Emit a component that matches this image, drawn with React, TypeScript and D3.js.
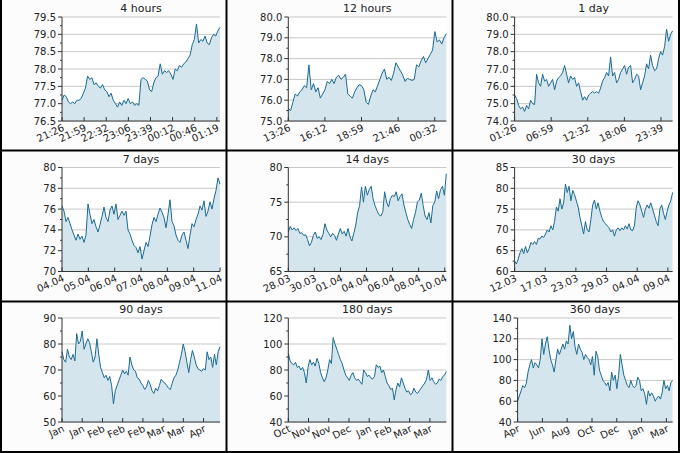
import React from 'react';
import * as d3 from 'd3';

const titles = ['4 hours', '12 hours', '1 day', '7 days', '14 days', '30 days', '90 days', '180 days', '360 days'];

const s4h = [77.1,77.25,77.2,77.05,77.0,77.05,77.0,77.1,77.1,77.15,77.3,77.45,77.8,77.7,77.75,77.55,77.6,77.5,77.45,77.55,77.4,77.35,77.2,77.3,77.1,77.0,76.9,77.05,76.95,77.1,77.0,77.15,77.0,77.05,76.95,77.0,76.95,77.7,77.75,77.7,77.65,77.4,77.35,77.6,77.75,77.8,78.15,77.85,77.95,77.9,77.95,77.85,77.7,78.0,77.95,78.1,78.05,78.15,78.2,78.3,78.4,78.7,78.85,79.3,78.75,78.85,78.8,78.95,78.75,78.7,78.9,79.0,78.95,79.1,79.2];
const s12h = [75.6,75.5,75.9,76.3,76.2,76.4,76.5,76.7,76.6,77.7,76.5,76.8,76.4,76.6,76.1,76.3,76.5,76.9,76.8,77.0,76.8,77.1,77.2,77.0,77.1,77.25,76.3,76.2,76.1,76.4,76.6,76.75,76.7,76.5,75.9,75.8,76.2,76.5,76.4,76.7,77.0,77.3,77.5,77.0,77.1,76.95,77.3,77.8,77.6,77.4,77.2,76.9,77.05,77.0,76.95,77.0,77.7,77.6,77.9,78.1,77.8,78.0,78.2,78.4,79.3,78.8,78.9,78.7,79.0,79.2];
const s1d = [75.5,75.3,74.9,74.7,74.8,74.55,74.9,74.7,75.2,75.0,74.95,76.7,76.2,76.0,76.7,76.3,76.4,76.0,76.2,76.4,75.8,76.3,76.5,76.6,76.8,77.2,76.7,76.2,76.6,76.4,76.5,76.0,76.2,75.7,75.2,75.4,75.2,75.5,75.6,75.7,75.6,75.7,75.6,75.9,76.3,76.5,76.8,76.6,77.7,76.6,76.8,76.2,76.4,76.8,77.0,77.2,76.7,77.1,77.2,76.2,76.4,76.7,76.6,75.8,76.2,76.6,77.3,77.0,77.8,77.2,76.9,77.0,77.6,78.0,77.8,78.3,79.3,78.6,79.0,79.2];
const s7d = [76.3,75.8,74.8,75.2,74.6,74.0,73.5,73.0,73.6,73.1,73.4,72.8,73.5,76.5,75.5,74.6,75.0,74.3,73.8,74.5,75.3,76.2,75.2,74.8,75.9,76.3,75.5,76.5,75.0,75.4,75.8,75.4,75.8,74.0,73.6,73.0,72.5,72.3,71.8,72.4,71.2,72.0,72.8,72.4,73.4,74.5,75.2,74.8,75.5,76.1,75.7,75.2,74.2,75.5,76.9,74.8,74.4,73.5,73.0,72.8,73.5,73.8,73.0,72.2,73.5,74.6,74.3,75.0,75.5,76.3,75.9,76.8,75.3,75.8,76.7,76.0,77.0,77.8,79.0,78.4];
const s14d = [70.7,71.5,71.0,71.3,70.9,71.2,70.5,70.6,70.2,70.3,69.6,68.7,69.2,70.2,70.7,69.8,70.0,69.6,70.3,71.9,71.0,70.5,70.0,70.5,70.2,69.5,70.4,71.2,70.4,70.8,70.1,71.2,70.0,69.4,70.5,71.7,73.5,74.5,77.2,75.0,77.3,76.0,76.8,77.3,75.5,74.5,73.8,73.2,73.0,73.5,76.5,75.0,74.3,75.5,76.0,75.8,76.5,75.2,75.8,76.2,74.6,73.5,72.5,71.8,71.2,72.5,73.5,75.0,75.3,76.3,74.5,73.0,72.5,73.5,72.0,74.5,75.0,76.6,75.5,76.8,77.3,76.0,79.1];
const s30d = [62.5,61.8,63.0,64.5,65.5,64.3,66.0,64.5,65.5,67.0,66.5,67.2,66.5,68.0,67.8,68.5,68.2,69.0,70.0,69.5,71.0,70.0,72.0,75.5,74.5,77.5,75.0,76.5,81.0,79.0,80.5,77.0,79.5,78.5,77.0,75.5,73.0,71.0,69.0,72.0,70.0,69.5,72.5,76.0,77.2,75.0,76.5,74.5,73.0,72.0,71.5,71.0,70.5,69.5,70.0,68.5,70.0,70.5,69.8,70.5,70.0,71.0,70.2,71.5,70.0,69.8,71.0,75.5,77.0,76.0,74.5,73.0,75.0,76.0,75.2,76.5,75.0,73.5,72.0,71.0,75.0,76.0,74.0,72.5,74.5,76.0,77.0,79.0];
const s90d = [77,74,73,78,75,74,76,73.5,84,80,81,85,78,80,82,80.5,77,73,75,82,76,71,69,67,68,66,67.5,64,57,62,64,66,68,70,68.5,69.5,68,75,72,70,69.5,67,66.5,65,64,62.5,63.5,66,64.5,62,61,63,62,64,66.5,65.5,65,64,63,62.5,65,67,68,70,73,76,80,77,73,69,74,77.5,75,72,70.5,70,69.5,70.5,70,77,74,75,71,76,72,77,79];
const s180d = [93,87,85,84,86,82,83,80,82,78,70,82,88,84,86,83,89,85,78,74,71,74,80,88,85,105,100,96,92,88,85,80,76,74,72,76,78,74,72,73,71,69,80,78,75,76,74,73,75,84,82,83,78,80,75,70,68,65,66,57,65,70,67,74,70,66,63,64,61,62,66,63,62,64,66,68,70,73,80,72,74,71,69,70,73,72,75,76,79];
const s360d = [60,65,70,75,73,77,88,95,100,92,97,95,92,100,120,105,115,122,110,100,95,88,100,110,105,110,115,110,118,115,133,120,127,112,105,115,110,107,100,105,102,100,95,103,85,108,103,90,85,80,78,75,78,70,88,80,85,72,85,105,95,85,80,75,73,80,75,73,75,83,80,70,72,67,57,70,65,68,65,60,63,65,62,68,80,72,75,70,78,80];
const series = [s4h, s12h, s1d, s7d, s14d, s30d, s90d, s180d, s360d];

const xTicks = [
  ['21:26','21:59','22:32','23:06','23:39','00:12','00:46','01:19'],
  ['13:26','16:12','18:59','21:46','00:32'],
  ['01:26','06:59','12:32','18:06','23:39'],
  ['04.04','05.04','06.04','07.04','08.04','09.04','11.04'],
  ['28.03','30.03','01.04','04.04','06.04','08.04','10.04'],
  ['12.03','17.03','23.03','29.03','04.04','09.04'],
  ['Jan','Jan','Feb','Feb','Feb','Mar','Mar','Apr'],
  ['Oct','Nov','Nov','Dec','Jan','Feb','Mar','Mar'],
  ['Apr','Jun','Aug','Oct','Dec','Jan','Mar'],
];
const tickGap = [0.14, 0.2317, 0.2316, 0.1667, 0.165, 0.194, 0.128, 0.128, 0.16];
const yDomains = [[76.5,79.5],[75,80],[74,80],[70,80],[65,80],[60,85],[50,90],[40,120],[40,140]];
const yStep = [0.5, 1, 1, 2, 5, 5, 10, 20, 20];
const yFmt = ['.1f','.1f','.1f','d','d','d','d','d','d'];

const CW = 226.3, CH = 150.5;
const font = 'DejaVu Sans, sans-serif';

function Panel({ i }: { i: number }) {
  const col = i % 3, row = Math.floor(i / 3);
  const ox = col * CW, oy = row * CH;
  const left = i === 8 ? 65 : 62, right = 220, top = 17, bottom = 121;
  const data = series[i];
  const x = d3.scaleLinear().domain([0, data.length - 1]).range([left, right]);
  const xf = d3.scaleLinear().domain([0, 1]).range([left, right]);
  const y = d3.scaleLinear().domain(yDomains[i]).range([bottom, top]);
  const [y0, y1] = yDomains[i];
  const majors = d3.range(y0, y1 + 1e-9, yStep[i]);
  const minors = d3.range(y0 + yStep[i] / 2, y1, yStep[i]);
  const fmt = d3.format(yFmt[i]);
  const area = d3.area<number>().x((_, k) => x(k)).y0(bottom).y1(d => y(d));
  const line = d3.line<number>().x((_, k) => x(k)).y(d => y(d));
  return (
    <g transform={`translate(${ox},${oy})`}>
      <rect x={left} y={top} width={right - left} height={bottom - top} fill="#fff" />
      {majors.map(v => (
        <line key={'g' + v} x1={left} x2={right} y1={y(v)} y2={y(v)} stroke="#c8c8c8" strokeWidth={1} />
      ))}
      <path d={area(data) || ''} fill="#d5e5ee" />
      <path d={line(data) || ''} fill="none" stroke="#1b6b92" strokeWidth={1} />
      <line x1={left} x2={left} y1={top} y2={bottom} stroke="#333" />
      <line x1={left} x2={right} y1={bottom} y2={bottom} stroke="#333" />
      {majors.map(v => (
        <g key={'m' + v}>
          <line x1={left - 4} x2={left} y1={y(v)} y2={y(v)} stroke="#333" />
          <text x={left - 6} y={y(v)} dy="0.35em" textAnchor="end" fontSize={10} fontFamily={font} fill="#222">{fmt(v)}</text>
        </g>
      ))}
      {minors.map(v => (
        <line key={'n' + v} x1={left - 2} x2={left} y1={y(v)} y2={y(v)} stroke="#333" />
      ))}
      {xTicks[i].map((t, k) => {
        const tx = xf(k * tickGap[i]);
        return (
          <g key={'x' + k}>
            <line x1={tx} x2={tx} y1={bottom} y2={bottom - 4} stroke="#333" />
            <text transform={`translate(${tx + 3},${bottom + 9}) rotate(-25)`} textAnchor="end" fontSize={10} fontFamily={font} fill="#222">{t}</text>
          </g>
        );
      })}
      <text x={(left + right) / 2} y={12} textAnchor="middle" fontSize={11} fontFamily={font} fill="#222">{titles[i]}</text>
    </g>
  );
}

export default function App() {
  return (
    <svg width={680} height={453} style={{ position: 'absolute', left: 0, top: 0, background: '#fcfcfc' }}>
      {titles.map((_, i) => <Panel key={i} i={i} />)}
      {[1, 226.5, 452.5, 679].map(v => <line key={'v' + v} x1={v} x2={v} y1={0} y2={453} stroke="#000" strokeWidth={2} />)}
      {[150.5, 301.5, 452].map(v => <line key={'h' + v} x1={0} x2={680} y1={v} y2={v} stroke="#000" strokeWidth={2} />)}
    </svg>
  );
}
